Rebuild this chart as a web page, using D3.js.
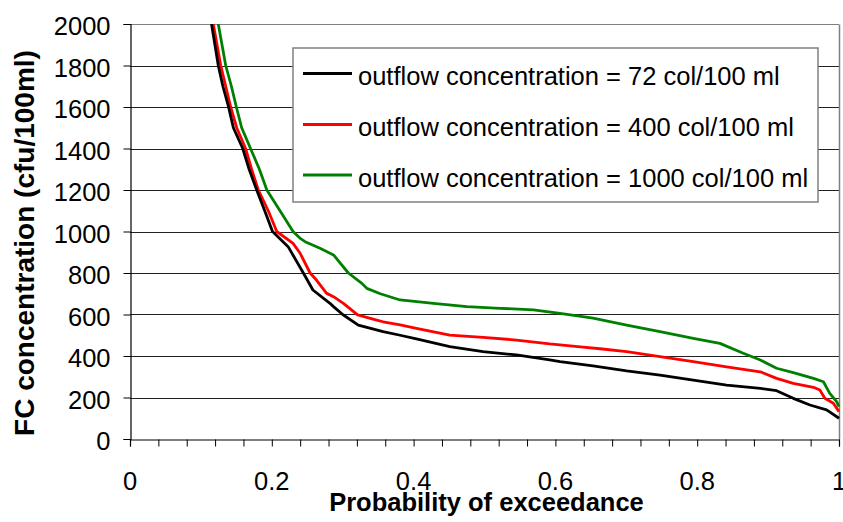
<!DOCTYPE html>
<html>
<head>
<meta charset="utf-8">
<script src="https://cdn.jsdelivr.net/npm/d3@7"></script>
<style>
  html, body { margin: 0; padding: 0; background: #fff; }
  svg { display: block; font-family: "Liberation Sans", Arial, sans-serif; }
</style>
</head>
<body>
<svg id="chart" width="843" height="522"></svg>
<script>
// ---- Data ----
const seriesNames = [
  "outflow concentration = 72 col/100 ml",
  "outflow concentration = 400 col/100 ml",
  "outflow concentration = 1000 col/100 ml"
];
const seriesColors = ["#000000", "#ff0000", "#008000"];

const probBlack = [0.115, 0.1245, 0.131, 0.139, 0.1458, 0.159, 0.168, 0.1787, 0.190, 0.201, 0.223, 0.2445, 0.258, 0.282, 0.287, 0.300, 0.322, 0.357, 0.381, 0.404, 0.451, 0.498, 0.545, 0.592, 0.6065, 0.653, 0.7005, 0.7475, 0.7945, 0.8415, 0.889, 0.912, 0.9355, 0.959, 0.9825, 1.0];
const concBlack = [2000, 1800, 1700, 1600, 1500, 1400, 1300, 1200, 1100, 1000, 927, 800, 718, 654, 638, 600, 549, 517, 500, 482, 445, 421, 405, 381, 373, 352, 328, 308, 284, 260, 244, 233, 196, 164, 140, 100];

const probRed = [0.1175, 0.128, 0.142, 0.1505, 0.163, 0.1715, 0.181, 0.195, 0.207, 0.230, 0.240, 0.254, 0.263, 0.277, 0.287, 0.301, 0.321, 0.348, 0.357, 0.381, 0.404, 0.451, 0.498, 0.545, 0.592, 0.639, 0.663, 0.7005, 0.7475, 0.7945, 0.8415, 0.889, 0.912, 0.9355, 0.964, 0.973, 0.980, 0.992, 1.0];
const concRed = [2000, 1800, 1600, 1500, 1400, 1300, 1200, 1100, 1000, 943, 895, 800, 766, 703, 686, 654, 598, 573, 565, 550, 533, 501, 490, 477, 458, 443, 435, 421, 397, 373, 348, 324, 292, 268, 249, 236, 196, 172, 132];

const probGreen = [0.1245, 0.135, 0.143, 0.150, 0.1575, 0.170, 0.1825, 0.193, 0.214, 0.230, 0.240, 0.247, 0.268, 0.287, 0.308, 0.327, 0.334, 0.353, 0.381, 0.428, 0.475, 0.522, 0.569, 0.6065, 0.653, 0.7005, 0.7475, 0.7945, 0.832, 0.865, 0.889, 0.912, 0.9355, 0.964, 0.978, 0.987, 0.9967, 1.0];
const concGreen = [2000, 1800, 1700, 1600, 1500, 1400, 1300, 1200, 1087, 1000, 967, 951, 919, 887, 800, 750, 726, 700, 670, 654, 638, 630, 622, 605, 582, 549, 517, 485, 461, 413, 381, 341, 320, 292, 276, 220, 180, 156];

const yTicks = [0, 200, 400, 600, 800, 1000, 1200, 1400, 1600, 1800, 2000];
const xTickLabels = [0, 0.2, 0.4, 0.6, 0.8, 1];
const xMinorTicks = [0, 0.04, 0.08, 0.12, 0.16, 0.2, 0.24, 0.28, 0.32, 0.36, 0.4, 0.44, 0.48, 0.52, 0.56, 0.6, 0.64, 0.68, 0.72, 0.76, 0.8, 0.84, 0.88, 0.92, 0.96, 1];

const xTitle = "Probability of exceedance";
const yTitle = "FC concentration (cfu/100ml)";

// ---- Layout ----
const pL = 130, pR = 839, pT = 24, pB = 439;
const svg = d3.select("#chart");

const x = d3.scaleLinear().domain([0, 1]).range([pL, pR]);
const y = d3.scaleLinear().domain([0, 2000]).range([pB, pT]);

// gridlines
svg.append("g")
  .selectAll("line")
  .data(yTicks.filter(d => d > 0))
  .join("line")
  .attr("x1", pL).attr("x2", pR)
  .attr("y1", d => Math.round(y(d)) + 0.5).attr("y2", d => Math.round(y(d)) + 0.5)
  .attr("stroke", d => d === 2000 ? "#808080" : "#222")
  .attr("stroke-width", 1);

// right border
svg.append("line")
  .attr("x1", pR + 0.5).attr("x2", pR + 0.5)
  .attr("y1", Math.round(pT) + 0.5).attr("y2", pB)
  .attr("stroke", "#808080").attr("stroke-width", 1.5);

// clip
svg.append("defs").append("clipPath").attr("id", "clip")
  .append("rect").attr("x", pL).attr("y", pT).attr("width", pR - pL + 2).attr("height", pB - pT);

const series = [
  {p: probBlack, c: concBlack},
  {p: probRed, c: concRed},
  {p: probGreen, c: concGreen}
];

const line = d3.line().x(d => x(d[0])).y(d => y(d[1]));

const lg = svg.append("g").attr("clip-path", "url(#clip)");
[2, 1, 0].forEach(i => {
  const s = series[i];
  lg.append("path")
    .datum(s.p.map((p, k) => [p, s.c[k]]))
    .attr("fill", "none")
    .attr("stroke", seriesColors[i])
    .attr("stroke-width", 2.8)
    .attr("stroke-linejoin", "round")
    .attr("d", line);
});

// axes
const yAxis = d3.axisLeft(y).tickValues(yTicks).tickSize(7).tickPadding(13).tickFormat(d3.format("d"));
const gy = svg.append("g").attr("transform", `translate(${pL + 0.5},0)`).call(yAxis);
gy.select(".domain").attr("stroke", "#000").attr("stroke-width", 1.2);
gy.selectAll(".tick line").attr("stroke", "#000");
gy.selectAll(".tick text")
  .attr("font-size", "25.5px").attr("fill", "#000")
  .attr("font-family", "'Liberation Sans', Arial, sans-serif")
  .attr("dy", "0.42em");

const xAxis = d3.axisBottom(x).tickValues(xMinorTicks).tickSize(7).tickFormat("");
const gx = svg.append("g").attr("transform", `translate(0,${pB + 0.5})`).call(xAxis);
gx.select(".domain").attr("stroke", "#000").attr("stroke-width", 1.2);
gx.selectAll(".tick line").attr("stroke", "#000");

svg.append("g")
  .selectAll("text")
  .data(xTickLabels)
  .join("text")
  .attr("x", d => x(d)).attr("y", 490)
  .attr("text-anchor", "middle")
  .attr("font-size", "25.5px")
  .attr("fill", "#000")
  .text(d => d3.format("")(d));

// axis titles
svg.append("text")
  .attr("x", (pL + pR) / 2 + 2).attr("y", 511)
  .attr("text-anchor", "middle")
  .attr("font-size", "25.5px").attr("font-weight", "bold")
  .text(xTitle);

svg.append("text")
  .attr("transform", `translate(34,243) rotate(-90)`)
  .attr("text-anchor", "middle")
  .attr("font-size", "28px").attr("font-weight", "bold")
  .text(yTitle);

// legend
const lgX = 293, lgY = 48, lgW = 525, lgH = 154;
const leg = svg.append("g");
leg.append("rect")
  .attr("x", lgX).attr("y", lgY).attr("width", lgW).attr("height", lgH)
  .attr("fill", "#fff").attr("stroke", "#808080").attr("stroke-width", 1.5);
const rowY = [73.5, 124.5, 175];
seriesNames.forEach((name, i) => {
  leg.append("line")
    .attr("x1", 303).attr("x2", 352)
    .attr("y1", rowY[i]).attr("y2", rowY[i])
    .attr("stroke", seriesColors[i]).attr("stroke-width", 3);
  leg.append("text")
    .attr("x", 358).attr("y", rowY[i] + 11.5)
    .attr("font-size", "25.5px").attr("fill", "#000")
    .text(name);
});
</script>
</body>
</html>
